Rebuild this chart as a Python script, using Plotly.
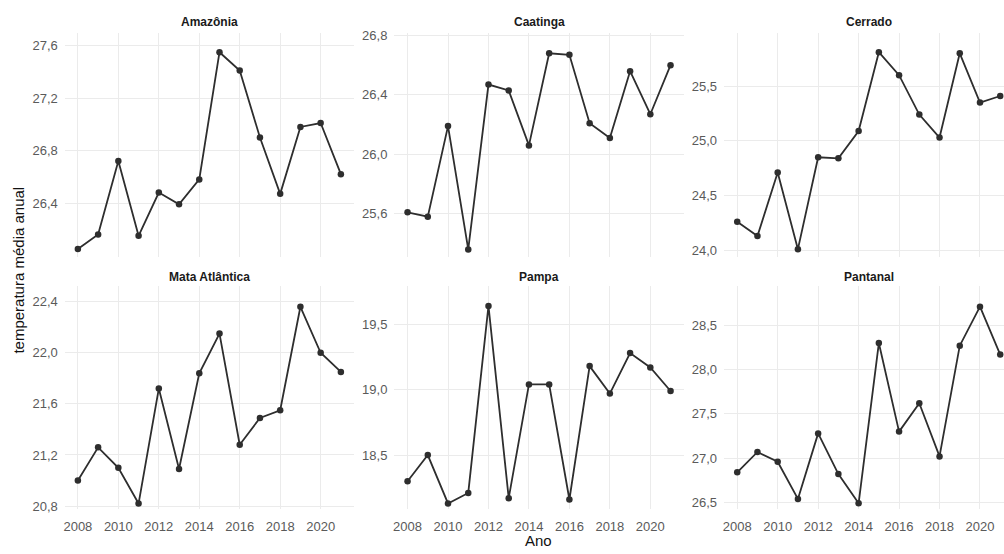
import plotly.graph_objects as go

W, H = 1004, 554

anos = list(range(2008, 2022))
anos_ticks = [2008, 2010, 2012, 2014, 2016, 2018, 2020]

biomas = ["Amazônia", "Caatinga", "Cerrado", "Mata Atlântica", "Pampa", "Pantanal"]

amazonia = [26.05, 26.16, 26.72, 26.15, 26.48, 26.39, 26.58, 27.55, 27.41, 26.90, 26.47, 26.98, 27.01, 26.62]
caatinga = [25.61, 25.58, 26.19, 25.36, 26.47, 26.43, 26.06, 26.68, 26.67, 26.21, 26.11, 26.56, 26.27, 26.60]
cerrado = [24.26, 24.13, 24.71, 24.01, 24.85, 24.84, 25.09, 25.81, 25.60, 25.24, 25.03, 25.80, 25.35, 25.41]
mata_atlantica = [21.00, 21.26, 21.10, 20.82, 21.72, 21.09, 21.84, 22.15, 21.28, 21.49, 21.55, 22.36, 22.00, 21.85]
pampa = [18.30, 18.50, 18.13, 18.21, 19.64, 18.17, 19.04, 19.04, 18.16, 19.18, 18.97, 19.28, 19.17, 18.99]
pantanal = [26.84, 27.07, 26.96, 26.54, 27.28, 26.82, 26.49, 28.30, 27.30, 27.62, 27.02, 28.27, 28.71, 28.17]

series = [amazonia, caatinga, cerrado, mata_atlantica, pampa, pantanal]

y_ticks = [
    [26.4, 26.8, 27.2, 27.6],
    [25.6, 26.0, 26.4, 26.8],
    [24.0, 24.5, 25.0, 25.5],
    [20.8, 21.2, 21.6, 22.0, 22.4],
    [18.5, 19.0, 19.5],
    [26.5, 27.0, 27.5, 28.0, 28.5],
]
y_ranges = [[25.99, 27.70], [25.31, 26.82], [23.94, 25.99],
            [20.78, 22.52], [18.09, 19.79], [26.43, 28.94]]

# pixel geometry of panels
col_left = [63.8, 393.8, 723.8]
px_per_year = 20.25
x0 = 2007.35
x_span = 14.3
row_top = [(29, 257), (287, 513)]

FONT = "Liberation Sans, Arial"

fig = go.Figure()
annotations = []
for i, (nome, vals) in enumerate(zip(biomas, series)):
    r, c = divmod(i, 3)
    ax = "" if i == 0 else str(i + 1)
    left = col_left[c]
    right = left + x_span * px_per_year
    x1 = x0 + x_span
    if right > W:
        x1 = x0 + (W - left) / px_per_year
        right = W
    top, bot = row_top[r]
    fig.add_trace(go.Scatter(
        x=anos, y=vals, mode="lines+markers",
        line=dict(color="#2e2e2e", width=1.8),
        marker=dict(color="#2e2e2e", size=6.5),
        xaxis="x" + ax, yaxis="y" + ax, showlegend=False, cliponaxis=False,
    ))
    fig.layout["xaxis" + ax] = dict(
        domain=[left / W, right / W], range=[x0, x1], anchor="y" + ax,
        tickvals=anos_ticks,
        showticklabels=(r == 1), showgrid=True, gridcolor="#ebebeb", gridwidth=1,
        zeroline=False, showline=False, ticks="",
        tickfont=dict(family=FONT, size=13, color="#5a5a5a"),
        ticklabelstandoff=8,
    )
    fig.layout["yaxis" + ax] = dict(
        domain=[(H - bot) / H, (H - top) / H], range=y_ranges[i], anchor="x" + ax,
        tickvals=y_ticks[i], tickformat=".1f",
        showgrid=True, gridcolor="#ebebeb", gridwidth=1,
        zeroline=False, showline=False, ticks="",
        tickfont=dict(family=FONT, size=13, color="#5a5a5a"),
        ticklabelstandoff=6,
    )
    annotations.append(dict(
        text="<b>" + nome + "</b>", x=(left + x_span * px_per_year / 2) / W,
        y=(H - (18 if r == 0 else 277)) / H, xref="paper", yref="paper",
        showarrow=False, xanchor="center", yanchor="middle",
        font=dict(family=FONT, size=12, color="#1a1a1a"),
    ))

annotations.append(dict(
    text="Ano", x=538 / W, y=(H - 545) / H, xref="paper", yref="paper",
    showarrow=False, xanchor="center", yanchor="middle",
    font=dict(family=FONT, size=15, color="#111111"),
))
annotations.append(dict(
    text="temperatura média anual", x=18 / W, y=(H - 270) / H, xref="paper", yref="paper",
    showarrow=False, xanchor="center", yanchor="middle", textangle=-90,
    font=dict(family=FONT, size=15, color="#111111"),
))

fig.update_layout(
    width=W, height=H, margin=dict(l=0, r=0, t=0, b=0),
    paper_bgcolor="white", plot_bgcolor="white",
    separators=", ", annotations=annotations,
)

fig.write_html("out.html")
